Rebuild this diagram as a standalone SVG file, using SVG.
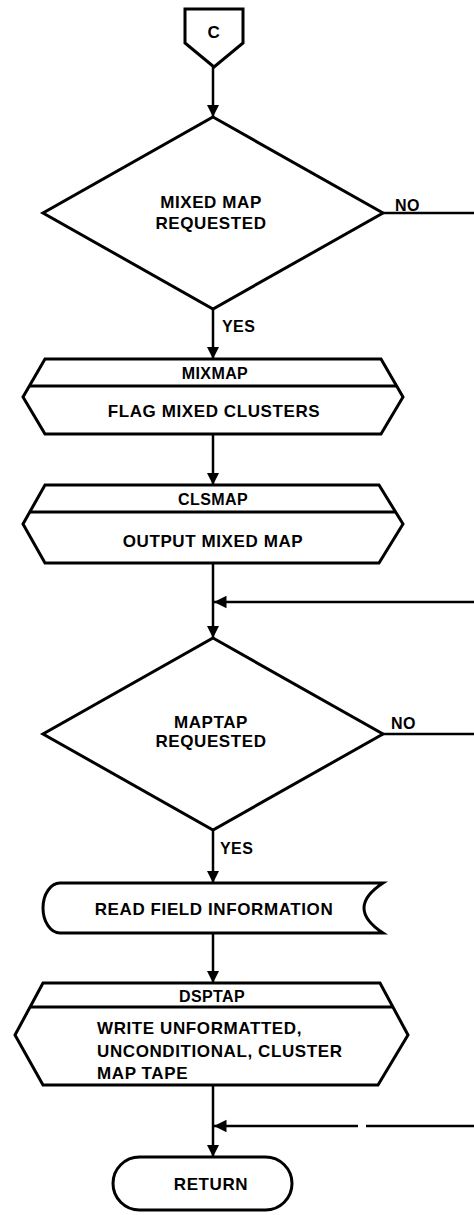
<svg xmlns="http://www.w3.org/2000/svg" width="474" height="1215" viewBox="0 0 474 1215">
<defs>
<marker id="ah" viewBox="0 0 10 10" refX="10" refY="5" markerWidth="5" markerHeight="6" orient="auto" markerUnits="strokeWidth">
<path d="M0,0 L10,5 L0,10 Z" fill="#000"/>
</marker>
</defs>
<style>
.s{fill:#fff;stroke:#000;stroke-width:3;stroke-linejoin:miter}
.in{stroke:#000;stroke-width:3}
.c{fill:none;stroke:#000;stroke-width:2.5}
.t{font-family:"Liberation Sans",Arial,sans-serif;font-weight:bold;font-size:17px;letter-spacing:0.6px;fill:#000}
.m{text-anchor:middle}
.sm{font-size:16px;letter-spacing:0.4px}
</style>
<rect width="474" height="1215" fill="#fff"/>
<g id="connectors">
<line class="c" x1="213" y1="67" x2="213" y2="117" marker-end="url(#ah)"/>
<line class="c" x1="383" y1="213" x2="474" y2="213"/>
<line class="c" x1="213" y1="309" x2="213" y2="359" marker-end="url(#ah)"/>
<line class="c" x1="213" y1="434" x2="213" y2="485" marker-end="url(#ah)"/>
<line class="c" x1="213" y1="563" x2="213" y2="638" marker-end="url(#ah)"/>
<line class="c" x1="474" y1="602" x2="214" y2="602" marker-end="url(#ah)"/>
<line class="c" x1="383" y1="734" x2="474" y2="734"/>
<line class="c" x1="213" y1="830" x2="213" y2="883" marker-end="url(#ah)"/>
<line class="c" x1="213" y1="933" x2="213" y2="983" marker-end="url(#ah)"/>
<line class="c" x1="213" y1="1085" x2="213" y2="1157" marker-end="url(#ah)"/>
<line class="c" x1="474" y1="1126" x2="366" y2="1126"/>
<line class="c" x1="358" y1="1126" x2="214" y2="1126" marker-end="url(#ah)"/>
<text class="t sm" x="395" y="211">NO</text>
<text class="t sm" x="222" y="332">YES</text>
<text class="t sm" x="391" y="729">NO</text>
<text class="t sm" x="220" y="854">YES</text>
</g>
<g id="offpage-c">
<path class="s" d="M185,9 L243,9 L243,43 L214,67 L185,43 Z"/>
<text class="t m" x="214" y="38">C</text>
</g>
<g id="decision-mixed-map">
<path class="s" d="M213,117 L383,213 L213,309 L43,213 Z"/>
<text class="t m" x="211" y="208">MIXED MAP</text>
<text class="t m" x="211" y="229">REQUESTED</text>
</g>
<g id="mixmap">
<path class="s" d="M45,359 L381,359 L403,397 L381,434 L45,434 L23,397 Z"/>
<line class="in" x1="29.4" y1="386" x2="396.6" y2="386"/>
<text class="t m sm" x="215" y="379">MIXMAP</text>
<text class="t m" x="214" y="417">FLAG MIXED CLUSTERS</text>
</g>
<g id="clsmap">
<path class="s" d="M45,485 L379,485 L403,524 L379,563 L45,563 L23,524 Z"/>
<line class="in" x1="29.8" y1="512" x2="395.6" y2="512"/>
<text class="t m sm" x="213" y="505">CLSMAP</text>
<text class="t m" x="213" y="547">OUTPUT MIXED MAP</text>
</g>
<g id="decision-maptap">
<path class="s" d="M213,638 L383,734 L213,830 L43,734 Z"/>
<text class="t m" x="211" y="728">MAPTAP</text>
<text class="t m" x="211" y="747">REQUESTED</text>
</g>
<g id="read-field">
<path class="s" d="M60,883 L383,883 Q345,908 383,933 L60,933 A17,25 0 0 1 60,883 Z"/>
<text class="t m" x="214" y="915">READ FIELD INFORMATION</text>
</g>
<g id="dsptap">
<path class="s" d="M43,983 L380,983 L408,1035 L378,1085 L43,1085 L15,1035 Z"/>
<line class="in" x1="30" y1="1007" x2="393" y2="1007"/>
<text class="t m sm" x="212" y="1002">DSPTAP</text>
<text class="t" x="97" y="1034">WRITE UNFORMATTED,</text>
<text class="t" x="97" y="1057">UNCONDITIONAL, CLUSTER</text>
<text class="t" x="97" y="1079">MAP TAPE</text>
</g>
<g id="return">
<rect class="s" x="113" y="1157" width="179" height="53" rx="26.5"/>
<text class="t m" x="211" y="1190">RETURN</text>
</g>
</svg>
